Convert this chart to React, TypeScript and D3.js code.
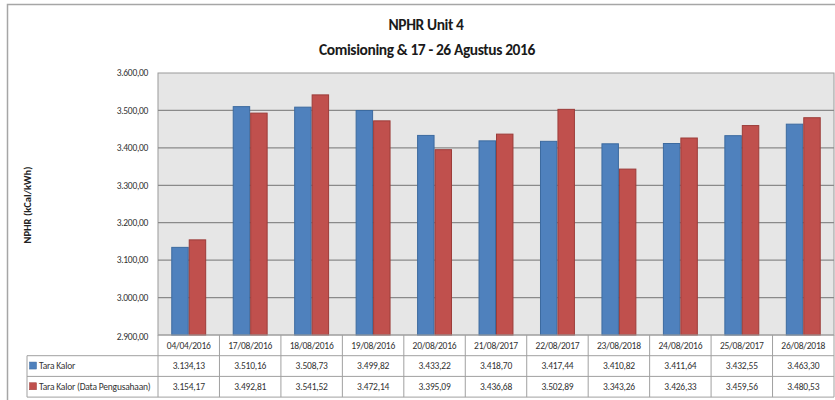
import React from "react";
import * as d3 from "d3";

const categories = ["04/04/2016","17/08/2016","18/08/2016","19/08/2016","20/08/2016","21/08/2017","22/08/2017","23/08/2018","24/08/2016","25/08/2017","26/08/2018"];
const seriesNames = ["Tara Kalor", "Tara Kalor (Data Pengusahaan)"];
const taraKalor = [3134.13,3510.16,3508.73,3499.82,3433.22,3418.70,3417.44,3410.82,3411.64,3432.55,3463.30];
const taraKalorPengusahaan = [3154.17,3492.81,3541.52,3472.14,3395.09,3436.68,3502.89,3343.26,3426.33,3459.56,3480.53];
const yTicks = [2900,3000,3100,3200,3300,3400,3500,3600];
const colors = ["#4F81BD", "#C0504D"];
const strokes = ["#3C6A9F", "#9C3C39"];

const locale = d3.formatLocale({ decimal: ",", thousands: ".", grouping: [3], currency: ["", ""] });
const fmt = locale.format(",.2f");

const W = 835, H = 400;
const plotL = 158, plotR = 834, plotT = 73, plotB = 335;
const rowH = 20.7;
const legendL = 27;
const FONT = "Carlito, Calibri, 'Liberation Sans Narrow', Lato, sans-serif";

export default function App() {
  const series = [taraKalor, taraKalorPengusahaan];
  const x0 = d3.scaleBand<string>().domain(categories).range([plotL, plotR]).padding(0);
  const x1 = d3.scaleBand<number>().domain([0, 1]).range([0, x0.step()]).paddingInner(0).paddingOuter(0.76);
  const y = d3.scaleLinear().domain([2900, 3600]).range([plotB, plotT]);
  const tableBottom = plotB + rowH * 3;

  return (
    <svg width={W} height={H} style={{ position: "absolute", left: 0, top: 0, background: "#fff" }} fontFamily={FONT}>
      <rect x={0} y={0} width={W} height={H} fill="#fff" />
      {/* outer frame */}
      <path d={`M7.5,${H} L7.5,4.5 L${W},4.5`} fill="none" stroke="#a6a6a6" strokeWidth={1.5} />
      {/* title */}
      <text x={426} y={30} textAnchor="middle" fontSize={15.5} fontWeight="bold" fill="#1a1a1a" letterSpacing={-0.4}>NPHR Unit 4</text>
      <text x={427} y={55} textAnchor="middle" fontSize={15.5} fontWeight="bold" fill="#1a1a1a" letterSpacing={-0.4}>Comisioning &amp; 17 - 26 Agustus 2016</text>
      {/* plot background */}
      <rect x={plotL} y={plotT} width={plotR - plotL} height={plotB - plotT} fill="#e6e6e6" stroke="#9a9a9a" strokeWidth={1} />
      {/* gridlines */}
      {yTicks.filter(t => t > 2900 && t < 3600).map(t => (
        <line key={t} x1={plotL} x2={plotR} y1={y(t)} y2={y(t)} stroke="#8a8a8a" strokeWidth={1.2} />
      ))}
      {/* y tick labels */}
      {yTicks.map(t => (
        <text key={t} x={148} y={y(t) + (t === 2900 ? 2 : 0)} dy="0.35em" textAnchor="end" fontSize={9.5} fill="#333" letterSpacing={-0.3}>{fmt(t)}</text>
      ))}
      {/* y axis title */}
      <text transform={`translate(31,205) rotate(-90)`} textAnchor="middle" fontSize={10.5} fontWeight="bold" fill="#222">NPHR (kCal/kWh)</text>
      {/* bars */}
      {categories.map((c, i) => (
        <g key={c} transform={`translate(${x0(c)},0)`}>
          {series.map((s, j) => (
            <rect key={j} x={(x1(j) as number) + 0.5} y={y(s[i])} width={x1.bandwidth() - 1} height={plotB - y(s[i])}
              fill={colors[j]} stroke={strokes[j]} strokeWidth={1} />
          ))}
        </g>
      ))}
      {/* data table */}
      <g stroke="#a0a0a0" strokeWidth={1} fill="none">
        <line x1={plotL} x2={plotR} y1={plotB} y2={plotB} />
        <line x1={legendL} x2={plotR} y1={plotB + rowH} y2={plotB + rowH} />
        <line x1={legendL} x2={plotR} y1={plotB + rowH * 2} y2={plotB + rowH * 2} />
        <line x1={legendL} x2={plotR} y1={tableBottom} y2={tableBottom} />
        <line x1={legendL} x2={legendL} y1={plotB + rowH} y2={tableBottom} />
        {categories.map(c => (
          <line key={c} x1={x0(c)} x2={x0(c)} y1={plotB} y2={tableBottom} />
        ))}
        <line x1={plotR} x2={plotR} y1={plotB} y2={tableBottom} />
      </g>
      {categories.map(c => (
        <text key={c} x={(x0(c) as number) + x0.step() / 2} y={plotB + rowH / 2} dy="0.35em" textAnchor="middle" fontSize={9.5} fill="#333" letterSpacing={-0.2}>{c}</text>
      ))}
      {series.map((s, j) => (
        <g key={j}>
          <rect x={legendL + 2.5} y={plotB + rowH * (j + 1) + rowH / 2 - 4} width={7} height={7} fill={colors[j]} stroke={strokes[j]} strokeWidth={0.5} />
          <text x={legendL + 12} y={plotB + rowH * (j + 1.5)} dy="0.35em" fontSize={9.5} fill="#333" letterSpacing={-0.2}>{seriesNames[j]}</text>
          {categories.map((c, i) => (
            <text key={c} x={(x0(c) as number) + x0.step() / 2} y={plotB + rowH * (j + 1.5)} dy="0.35em" textAnchor="middle" fontSize={9.5} fill="#333" letterSpacing={-0.2}>{fmt(s[i])}</text>
          ))}
        </g>
      ))}
    </svg>
  );
}
